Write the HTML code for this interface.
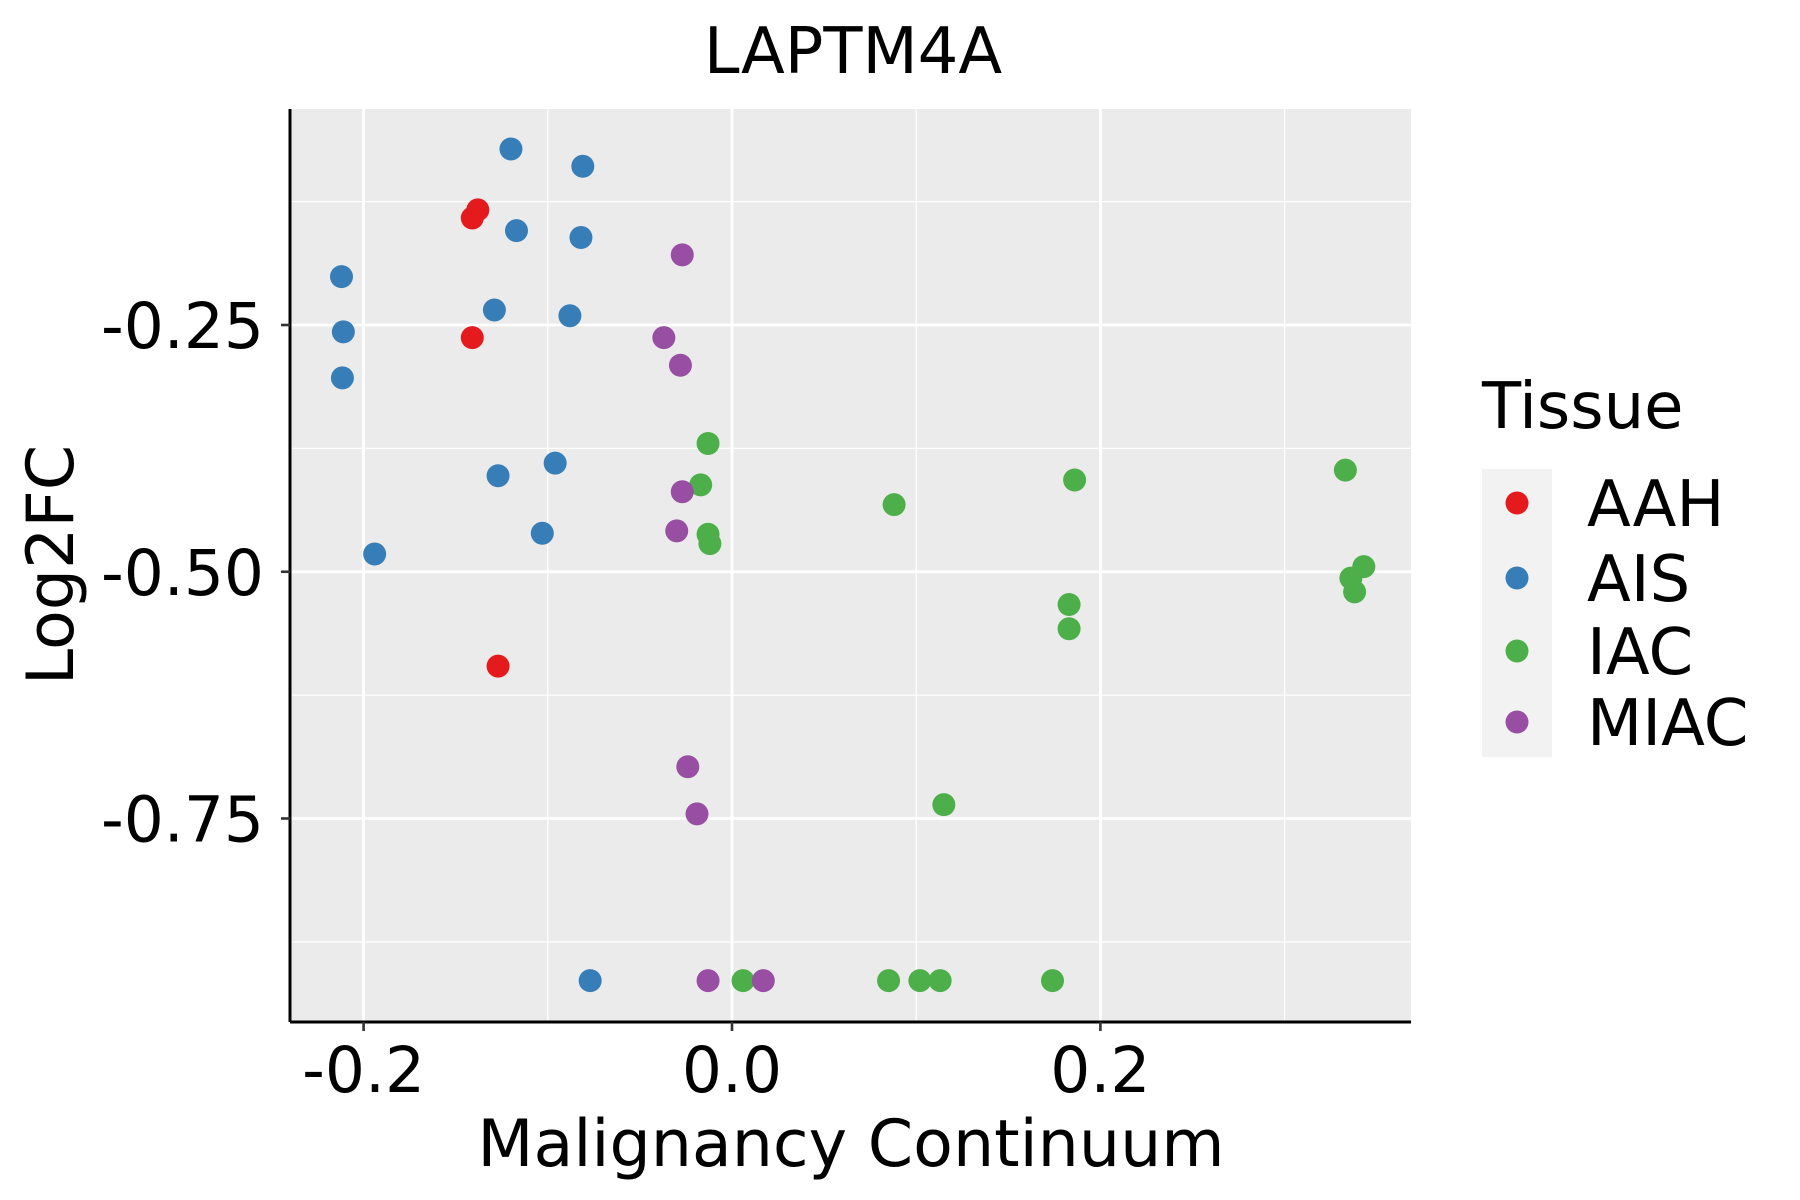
<!DOCTYPE html>
<html><head><meta charset="utf-8"><style>
html,body{margin:0;padding:0;background:#fff}
svg{display:block}
text{font-family:"DejaVu Sans","Liberation Sans",sans-serif;fill:#000}
</style></head><body>
<svg id="chart" width="1800" height="1200" viewBox="0 0 1800 1200">
<rect x="290" y="109" width="1121" height="913" fill="#ebebeb"/>
<g id="grid"></g>
<g id="points"></g>
<line x1="290" y1="109" x2="290" y2="1022" stroke="#000" stroke-width="3"/>
<line x1="290" y1="1022" x2="1411" y2="1022" stroke="#000" stroke-width="3"/>
<g id="ticks"></g>
<text x="853" y="73" font-size="64" text-anchor="middle">LAPTM4A</text>
<text x="851" y="1166" font-size="65" text-anchor="middle">Malignancy Continuum</text>
<text transform="translate(73,565) rotate(-90)" font-size="65" text-anchor="middle">Log2FC</text>
<text x="1482" y="428" font-size="64">Tissue</text>
<rect x="1482" y="469" width="70" height="288" fill="#f2f2f2"/>
<g id="legend"></g>
</svg>
<script>
const categories = ["AAH","AIS","IAC","MIAC"];
const colors = ["#e41a1c","#377eb8","#4daf4a","#984ea3"];
const xTickValues = [-0.2, 0.0, 0.2];
const xTickLabels = ["-0.2","0.0","0.2"];
const yTickValues = [-0.25, -0.5, -0.75];
const yTickLabels = ["-0.25","-0.50","-0.75"];
const xMinor = [-0.1, 0.1, 0.3];
const yMinor = [-0.125, -0.375, -0.625, -0.875];
const aahX = [-0.138,-0.141,-0.141,-0.127];
const aahY = [-0.1334,-0.1416,-0.2628,-0.5956];
const aisX = [-0.120,-0.081,-0.117,-0.082,-0.212,-0.129,-0.088,-0.211,-0.2115,-0.127,-0.096,-0.103,-0.194,-0.077];
const aisY = [-0.0717,-0.0892,-0.1544,-0.1614,-0.201,-0.2348,-0.2406,-0.257,-0.3036,-0.4027,-0.3899,-0.461,-0.482,-0.9143];
const iacX = [-0.013,-0.017,0.186,0.088,0.333,-0.013,-0.012,0.343,0.336,0.338,0.183,0.183,0.115,0.006,0.085,0.102,0.113,0.174];
const iacY = [-0.370,-0.412,-0.407,-0.432,-0.397,-0.462,-0.4715,-0.4948,-0.5064,-0.5204,-0.5332,-0.5577,-0.736,-0.9143,-0.9143,-0.9143,-0.9143,-0.9143];
const miacX = [-0.027,-0.037,-0.028,-0.027,-0.030,-0.024,-0.019,-0.013,0.017];
const miacY = [-0.1789,-0.2628,-0.2908,-0.419,-0.4586,-0.6976,-0.7453,-0.9143,-0.9143];

const NS = "http://www.w3.org/2000/svg";
const PL = 290, PR = 1411, PT = 109, PB = 1022;
function xs(v){ return 732 + v * 1842; }
function ys(v){ return 325 - (v + 0.25) * 987; }
function mk(tag, attrs, parent){ const e = document.createElementNS(NS, tag); for (const k in attrs) e.setAttribute(k, attrs[k]); parent.appendChild(e); return e; }

const grid = document.getElementById("grid");
yMinor.forEach(v => { const l = mk("line",{x1:PL,x2:PR,y1:ys(v),y2:ys(v),stroke:"#fff","stroke-width":1.3},grid);
  
   });
xMinor.forEach(v => { const l = mk("line",{x1:xs(v),x2:xs(v),y1:PT,y2:PB,stroke:"#fff","stroke-width":1.3},grid);
  
   });
yTickValues.forEach(v => { const l = mk("line",{x1:PL,x2:PR,y1:ys(v),y2:ys(v),stroke:"#fff","stroke-width":2.8},grid);
  
   });
xTickValues.forEach(v => { const l = mk("line",{x1:xs(v),x2:xs(v),y1:PT,y2:PB,stroke:"#fff","stroke-width":2.8},grid);
  
   });

const ticks = document.getElementById("ticks");
xTickValues.forEach((v,i) => {
  const t = mk("line",{x1:xs(v),x2:xs(v),y1:PB,y2:PB+9,stroke:"#333","stroke-width":2.6},ticks);
  
  
  const tx = mk("text",{x:xs(v),y:1092,"font-size":63,"text-anchor":"middle"},ticks);
  tx.textContent = xTickLabels[i];
  
  
});
yTickValues.forEach((v,i) => {
  const t = mk("line",{x1:PL-9,x2:PL,y1:ys(v),y2:ys(v),stroke:"#333","stroke-width":2.6},ticks);
  
  
  const tx = mk("text",{x:264,y:ys(v)+23,"font-size":63,"text-anchor":"end"},ticks);
  tx.textContent = yTickLabels[i];
  
  
});

const pts = document.getElementById("points");
const seriesX = [aahX, aisX, iacX, miacX];
const seriesY = [aahY, aisY, iacY, miacY];
seriesX.forEach((xsArr, s) => {
  xsArr.forEach((xv, i) => {
    const c = mk("circle",{cx:xs(xv),cy:ys(seriesY[s][i]),r:11.5,fill:colors[s]},pts);
    
    
  });
});

const legend = document.getElementById("legend");
const legY = [503, 578, 651, 722];
categories.forEach((c, i) => {
  const g = mk("g",{},legend);
  
  
  mk("circle",{cx:1517,cy:legY[i],r:11.5,fill:colors[i]},g);
  const t = mk("text",{x:1587,y:legY[i]+23,"font-size":64},g);
  t.textContent = c;
});
</script>
</body></html>
